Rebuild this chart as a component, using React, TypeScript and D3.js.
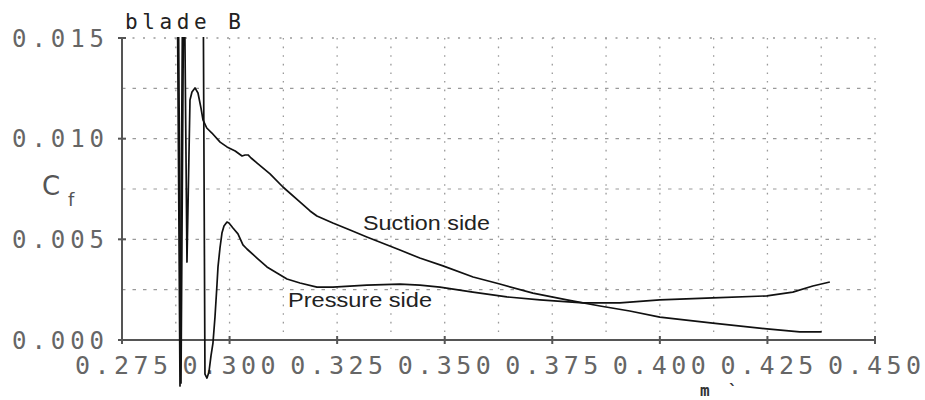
import React from "react";
import * as d3 from "d3";

// Skin-friction coefficient along the blade, m' vs Cf
const suctionM = [
  0.28801, 0.28871, 0.28941, 0.2901, 0.2908, 0.29126, 0.29196, 0.29266, 0.29336, 0.29382,
  0.2947, 0.2959, 0.2978, 0.2994, 0.3013, 0.3029, 0.3036, 0.3043, 0.305, 0.3064, 0.3094,
  0.3124, 0.3164, 0.3187, 0.3203, 0.324, 0.328, 0.3319, 0.3396, 0.3442, 0.3496, 0.3566,
  0.3628, 0.3705, 0.3784, 0.3861, 0.393, 0.4, 0.4123, 0.4249, 0.4325, 0.4376,
];
const suctionCf = [
  0.02, -0.00214, 0.02, 0.00387, 0.01192, 0.01232, 0.01252, 0.01227, 0.01152, 0.01093,
  0.01053, 0.01028, 0.00983, 0.00959, 0.00939, 0.00914, 0.00919, 0.00919, 0.00904, 0.00879,
  0.00825, 0.0076, 0.00685, 0.00641, 0.00616, 0.00581, 0.00546, 0.00512, 0.00447, 0.00407,
  0.00368, 0.00313, 0.00278, 0.00233, 0.00199, 0.00169, 0.00144, 0.00114, 0.00084, 0.00055,
  0.0004, 0.0004,
];

const pressureM = [
  0.28778, 0.28848, 0.28917, 0.29382, 0.29428, 0.29475, 0.29521, 0.29568, 0.29614, 0.29661,
  0.29707, 0.29731, 0.29777, 0.29823, 0.2987, 0.2994, 0.29986, 0.30079, 0.30195, 0.30311,
  0.30404, 0.30637, 0.30869, 0.31101, 0.31334, 0.31636, 0.32031, 0.32402, 0.32797, 0.33192,
  0.33959, 0.34424, 0.34889, 0.35655, 0.36445, 0.37212, 0.38211, 0.39071, 0.4, 0.41231,
  0.42486, 0.4309, 0.43555, 0.4395,
];
const pressureCf = [
  0.02, -0.00228, 0.02, 0.02, -0.00169, -0.00189, -0.00159, -0.00079, -0.00015, 0.00114,
  0.00273, 0.00363, 0.00457, 0.00531, 0.00566, 0.00586, 0.00581, 0.00556, 0.00527, 0.00472,
  0.00452, 0.00407, 0.00363, 0.00333, 0.00303, 0.00283, 0.00263, 0.00263, 0.00268, 0.00273,
  0.00278, 0.00273, 0.00263, 0.00238, 0.00214, 0.00199, 0.00184, 0.00184, 0.00199, 0.00209,
  0.00219, 0.00238, 0.00268, 0.00288,
];

const xTicks = [0.275, 0.3, 0.325, 0.35, 0.375, 0.4, 0.425, 0.45];
const xTickLabels = ["0.275", "0.300", "0.325", "0.350", "0.375", "0.400", "0.425", "0.450"];
const yTicks = [0, 0.005, 0.01, 0.015];
const yTickLabels = ["0.000", "0.005", "0.010", "0.015"];
const xGrid = [0.2875, 0.3, 0.3125, 0.325, 0.3375, 0.35, 0.3625, 0.375, 0.3875, 0.4, 0.4125, 0.425, 0.4375, 0.45];
const yGridDashed = [0.0025, 0.005, 0.0075, 0.01, 0.0125];
const yGridTop = 0.015;

const W = 925;
const H = 400;
const left = 122;
const right = 875;
const top = 38;
const bottom = 340;

export default function App() {
  const x = d3.scaleLinear().domain([0.275, 0.45]).range([left, right]);
  const y = d3.scaleLinear().domain([0, 0.015]).range([bottom, top]);

  const line = d3
    .line<[number, number]>()
    .x((d) => x(d[0]))
    .y((d) => y(d[1]))
    .curve(d3.curveLinear);

  const suction = line(suctionM.map((m, i) => [m, suctionCf[i]]) as [number, number][]) || "";
  const pressure = line(pressureM.map((m, i) => [m, pressureCf[i]]) as [number, number][]) || "";

  const tickFont = "'DejaVu Sans Mono', monospace";
  const grid = "#9a9a9a";
  const axisColor = "#555";
  const labelColor = "#666";

  return (
    <svg
      width={W}
      height={H}
      viewBox={`0 0 ${W} ${H}`}
      style={{ position: "absolute", left: 0, top: 0, background: "#fff" }}
    >
      <defs>
        <clipPath id="plotClip">
          <rect x={left} y={top - 1} width={right - left + 5} height={H - top + 1} />
        </clipPath>
      </defs>

      {/* grid */}
      {xGrid.map((v) => (
        <line
          key={"gx" + v}
          x1={x(v)}
          x2={x(v)}
          y1={top}
          y2={bottom}
          stroke={grid}
          strokeWidth={1.3}
          strokeDasharray="1.6,7"
        />
      ))}
      {yGridDashed.map((v) => (
        <line
          key={"gy" + v}
          x1={left}
          x2={right}
          y1={y(v)}
          y2={y(v)}
          stroke={grid}
          strokeWidth={1.2}
          strokeDasharray="3.5,7"
        />
      ))}
      <line
        x1={left}
        x2={right}
        y1={y(yGridTop)}
        y2={y(yGridTop)}
        stroke={grid}
        strokeWidth={1.4}
        strokeDasharray="2,8.5"
      />

      {/* axes */}
      <line x1={left} x2={left} y1={top} y2={bottom} stroke={axisColor} strokeWidth={2} />
      <line x1={left} x2={right} y1={bottom} y2={bottom} stroke={axisColor} strokeWidth={2} />
      {yTicks.map((v) => (
        <line key={"ty" + v} x1={left - 4} x2={left + 4} y1={y(v)} y2={y(v)} stroke={axisColor} strokeWidth={2} />
      ))}
      {xTicks.map((v) => (
        <line key={"tx" + v} x1={x(v)} x2={x(v)} y1={bottom - 4} y2={bottom + 4} stroke={axisColor} strokeWidth={2} />
      ))}

      {/* tick labels */}
      {yTicks.map((v, i) => (
        <text
          key={"ly" + v}
          x={12}
          y={y(v) + 8.5}
          fontFamily={tickFont}
          fontSize={24}
          fill={labelColor}
          textLength={92}
          lengthAdjust="spacing"
        >
          {yTickLabels[i]}
        </text>
      ))}
      {xTicks.map((v, i) => (
        <text
          key={"lx" + v}
          x={x(v) - 47}
          y={373.5}
          fontFamily={tickFont}
          fontSize={25}
          fill={labelColor}
          textLength={93}
          lengthAdjust="spacing"
        >
          {xTickLabels[i]}
        </text>
      ))}

      {/* axis titles */}
      <text x={42} y={195} fontFamily="'DejaVu Sans', sans-serif" fontSize={26} fill="#555">
        C
      </text>
      <text x={68} y={206} fontFamily="'DejaVu Sans', sans-serif" fontSize={18} fill="#555">
        f
      </text>
      <text x={700} y={396} fontFamily={tickFont} fontSize={16} fontWeight="bold" fill="#333">
        m
      </text>
      <text x={728} y={396} fontFamily={tickFont} fontSize={16} fontWeight="bold" fill="#333">
        `
      </text>
      <text
        x={125}
        y={29}
        fontFamily={tickFont}
        fontSize={21}
        fill="#222"
        textLength={116}
        lengthAdjust="spacing"
      >
        blade B
      </text>

      {/* curves */}
      <g clipPath="url(#plotClip)">
        <path d={suction} fill="none" stroke="#111" strokeWidth={1.7} strokeLinejoin="round" />
        <path d={pressure} fill="none" stroke="#111" strokeWidth={1.7} strokeLinejoin="round" />
      </g>

      {/* series labels */}
      <text
        x={363}
        y={230}
        fontFamily="'Liberation Sans', Arial, sans-serif"
        fontSize={20}
        fill="#222"
        textLength={127}
        lengthAdjust="spacingAndGlyphs"
      >
        Suction side
      </text>
      <text
        x={288}
        y={307}
        fontFamily="'Liberation Sans', Arial, sans-serif"
        fontSize={20}
        fill="#222"
        textLength={144}
        lengthAdjust="spacingAndGlyphs"
      >
        Pressure side
      </text>
    </svg>
  );
}
